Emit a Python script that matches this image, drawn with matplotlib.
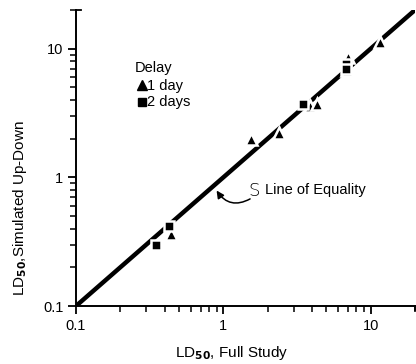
import numpy as np
import matplotlib
matplotlib.use('Agg')
from matplotlib import pyplot as plt
from matplotlib.ticker import LogLocator, NullFormatter, FixedLocator, FixedFormatter

plt.rcParams['font.family'] = ['Liberation Sans', 'DejaVu Sans']

# LD50 values, full study (x) vs simulated up-down (y)
day1_full = [0.44, 1.55, 2.4, 3.9, 4.35, 6.9, 7.0, 11.5]
day1_sim = [0.36, 2.0, 2.2, 3.6, 3.75, 6.8, 8.6, 11.3]
day2_full = [0.35, 0.43, 3.45, 6.8, 6.8]
day2_sim = [0.30, 0.42, 3.7, 7.6, 7.0]
equality = [0.1, 20]
tick_vals = [0.1, 1, 10]
tick_text = ['0.1', '1', '10']

fig = plt.figure(figsize=(4.16, 3.64), dpi=100)
ax = fig.add_axes([76/416, 58/364, 339/416, 296/364])

ax.plot(equality, equality, color='black', lw=3.2, solid_capstyle='butt', zorder=1)
ax.plot(day1_full, day1_sim, ls='none', marker='^', ms=9, mfc='black',
        mec='white', mew=1.8, zorder=3)
ax.plot(day2_full, day2_sim, ls='none', marker='s', ms=7.5, mfc='black',
        mec='white', mew=1.8, zorder=3)

ax.set_xscale('log')
ax.set_yscale('log')
ax.set_xlim(0.1, 20)
ax.set_ylim(0.1, 20)

for axis in (ax.xaxis, ax.yaxis):
    axis.set_major_locator(FixedLocator(tick_vals))
    axis.set_major_formatter(FixedFormatter(tick_text))
    axis.set_minor_locator(LogLocator(base=10, subs=np.arange(2, 10)))
    axis.set_minor_formatter(NullFormatter())

ax.tick_params(which='major', length=6, width=1.3, direction='out', labelsize=10.5, pad=3)
ax.tick_params(which='minor', length=4, width=1.1, direction='out')
for s in ('top', 'right'):
    ax.spines[s].set_visible(False)
for s in ('left', 'bottom'):
    ax.spines[s].set_linewidth(1.4)

# little end hooks on the axes
ax.plot([0, 0.015], [1, 1], transform=ax.transAxes, color='black', lw=1.3, clip_on=False)
ax.plot([1, 1], [0, -0.015], transform=ax.transAxes, color='black', lw=1.3, clip_on=False)

ax.set_xlabel(r'LD$_{\mathbf{50}}$, Full Study', fontsize=11)
ax.set_ylabel(r'LD$_{\mathbf{50}}$,Simulated Up-Down', fontsize=11)
ax.xaxis.set_label_coords(0.46, -0.13)
ax.yaxis.set_label_coords(-0.14, 0.33)

# legend
ax.text(0.172, 0.804, 'Delay', transform=ax.transAxes, fontsize=10.5, ha='left', va='center')
ax.plot([0.195], [0.745], transform=ax.transAxes, marker='^', ms=7, color='black', clip_on=False)
ax.text(0.21, 0.743, '1 day', transform=ax.transAxes, fontsize=10.5, va='center')
ax.plot([0.195], [0.69], transform=ax.transAxes, marker='s', ms=6, color='black', clip_on=False)
ax.text(0.21, 0.689, '2 days', transform=ax.transAxes, fontsize=10.5, va='center')

# line of equality label with squiggle arrow
ax.text(1.91, 0.80, 'Line of Equality', fontsize=10.5, va='center')
ax.text(1.47, 0.79, 'S', fontsize=13, va='center', family='DejaVu Sans', fontweight='ultralight')
ax.annotate('', xy=(0.9, 0.79), xytext=(1.52, 0.68),
            arrowprops=dict(arrowstyle='-|>', color='black', lw=1.1,
                            connectionstyle='arc3,rad=-0.45', mutation_scale=11,
                            shrinkA=0, shrinkB=0))

fig.savefig('out.png', dpi=100)
